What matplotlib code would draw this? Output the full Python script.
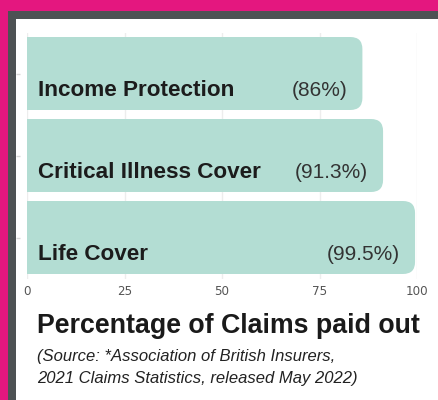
import matplotlib
matplotlib.use("Agg")
import matplotlib.pyplot as plt
from matplotlib.patches import FancyBboxPatch, Rectangle

categories = ["Income Protection", "Critical Illness Cover", "Life Cover"]
values = [86, 91.3, 99.5]
value_labels = ["(86%)", "(91.3%)", "(99.5%)"]
xticks = [0, 25, 50, 75, 100]
title = "Percentage of Claims paid out"
subtitle_lines = ["(Source: *Association of British Insurers,",
                  "2021 Claims Statistics, released May 2022)"]

W, H = 438, 400
PINK = "#E4177F"
GRAY = "#4D5254"
BAR = "#B3DDD3"

fig = plt.figure(figsize=(W / 100, H / 100), dpi=100, facecolor=PINK)
# dark frame and white panel
fig.patches.append(Rectangle((8 / W, 0), 1, (H - 11) / H, transform=fig.transFigure,
                             facecolor=GRAY, edgecolor="none", zorder=-2))
fig.patches.append(Rectangle((16 / W, 0), 1, (H - 19) / H, transform=fig.transFigure,
                             facecolor="white", edgecolor="none", zorder=-1))

ax_left, ax_right = 27, 417
ax_top, ax_bot = 32.5, 278.5
ax = fig.add_axes([ax_left / W, (H - ax_bot) / H, (ax_right - ax_left) / W, (ax_bot - ax_top) / H])
ax.set_zorder(2)
ax.set_facecolor("none")
ax.set_xlim(0, 100)
ax.set_ylim(2.5, -0.5)

px_x = (ax_right - ax_left) / 100.0  # px per x unit
px_y = (ax_bot - ax_top) / 3.0       # px per y unit
radius_px = 12
rx = radius_px / px_x
aspect = (radius_px / px_y) / rx

bar_h = 0.89
for i, (cat, v, lab) in enumerate(zip(categories, values, value_labels)):
    p = FancyBboxPatch((-10, i - bar_h / 2), v + 10, bar_h,
                       boxstyle=f"round,pad=0,rounding_size={rx}",
                       mutation_aspect=aspect, facecolor=BAR, edgecolor="none",
                       zorder=2, clip_on=True)
    ax.add_patch(p)
    ax.text(2.8, i + 0.27, cat, ha="left", va="baseline", fontsize=16.2,
            fontweight="bold", color="#1c1c1c", family="Liberation Sans", zorder=3)
    ax.text(v - 3.9, i + 0.275, lab, ha="right", va="baseline", fontsize=15,
            color="#333333", family="Liberation Sans", zorder=3)

ax.set_xticks(xticks)
ax.set_xticklabels([str(t) for t in xticks])
ax.grid(axis="x", color="#EDEDED", linewidth=1, zorder=0)
ax.set_axisbelow(True)
ax.tick_params(axis="x", length=0, pad=5, labelsize=8.6, labelcolor="#555555")
for lbl in ax.get_xticklabels():
    lbl.set_family("DejaVu Sans")
ax.set_yticks(range(len(categories)))
ax.set_yticklabels([])
ax.tick_params(axis="y", length=3, color="#D8D8D8", width=1)
ax.spines["left"].set_position(("outward", 5))
for s in ax.spines.values():
    s.set_visible(False)

fig.text(37 / W, (H - 333) / H, title, ha="left", va="baseline", fontsize=19.3,
         fontweight="bold", color="#1a1a1a", family="Liberation Sans", zorder=3)
for k, line in enumerate(subtitle_lines):
    fig.text(37 / W, (H - 361 - 22 * k) / H, line, ha="left", va="baseline", fontsize=12,
             fontstyle="italic", color="#222222", family="Liberation Sans", zorder=3)

fig.savefig("out.png", dpi=100, facecolor=PINK)
